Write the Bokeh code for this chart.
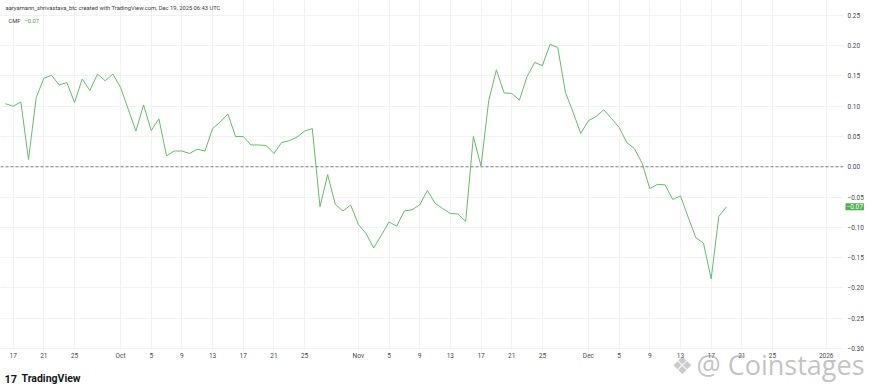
import pandas as pd
from bokeh.plotting import figure
from bokeh.models import Range1d, FixedTicker, Span, Label, CustomJSTickFormatter
from bokeh.embed import file_html
from bokeh.resources import INLINE

# ---- data (daily CMF, 2025-09-16 .. 2025-12-19) ----
start_date = "2025-09-16"
cmf = [
    0.104, 0.100, 0.107, 0.012, 0.114, 0.146, 0.151, 0.135, 0.139, 0.106,
    0.145, 0.126, 0.153, 0.142, 0.153, 0.131, 0.095, 0.059, 0.102, 0.060,
    0.079, 0.018, 0.026, 0.026, 0.022, 0.029, 0.026, 0.063, 0.074, 0.087,
    0.050, 0.050, 0.036, 0.036, 0.035, 0.022, 0.040, 0.043, 0.049, 0.059,
    0.063, -0.066, -0.013, -0.062, -0.073, -0.063, -0.095, -0.110, -0.134, -0.113,
    -0.091, -0.098, -0.073, -0.071, -0.063, -0.039, -0.060, -0.069, -0.077, -0.078,
    -0.090, 0.050, 0.001, 0.109, 0.160, 0.122, 0.121, 0.110, 0.149, 0.172,
    0.167, 0.202, 0.197, 0.123, 0.090, 0.055, 0.076, 0.083, 0.094, 0.080,
    0.065, 0.040, 0.030, 0.006, -0.036, -0.029, -0.030, -0.054, -0.048, -0.083,
    -0.117, -0.126, -0.185, -0.082, -0.066,
]
dates = pd.date_range(start_date, periods=len(cmf), freq="D")

tick_dates = ["2025-09-17", "2025-09-21", "2025-09-25", "2025-10-01", "2025-10-05",
              "2025-10-09", "2025-10-13", "2025-10-17", "2025-10-21", "2025-10-25",
              "2025-11-01", "2025-11-05", "2025-11-09", "2025-11-13", "2025-11-17",
              "2025-11-21", "2025-11-25", "2025-12-01", "2025-12-05", "2025-12-09",
              "2025-12-13", "2025-12-17", "2025-12-21", "2025-12-25", "2026-01-01"]
tick_labels = ["17", "21", "25", "Oct", "5", "9", "13", "17", "21", "25",
               "Nov", "5", "9", "13", "17", "21", "25", "Dec", "5", "9",
               "13", "17", "21", "25", "2026"]
y_ticks = [-0.30, -0.25, -0.20, -0.15, -0.10, -0.05, 0.00, 0.05, 0.10, 0.15, 0.20, 0.25]

header = "aaryamann_shrivastava_btc created with TradingView.com, Dec 19, 2025 06:43 UTC"
indicator = "CMF"
last_label = "\u22120.07"
brand = "TradingView"
watermark = "@ Coinstages"

# ---- derived ----
t0 = pd.Timestamp(start_date)
x = [(d - t0).days for d in dates]
tick_x = [(pd.Timestamp(d) - t0).days for d in tick_dates]

PX_PER_DAY = 7.67
PX_PER_UNIT = 606.0
X0 = -0.652
Y0 = 0.2744
W, H = 869, 388
FRAME_W, FRAME_H = 843, 350

def dx(px):
    return X0 + px / PX_PER_DAY

def dy(py):
    return Y0 - py / PX_PER_UNIT

FONT = "Roboto"
AX_COLOR = "#4a4a4a"

p = figure(width=W, height=H, output_backend="svg", toolbar_location=None,
           x_range=Range1d(X0, dx(FRAME_W)),
           y_range=Range1d(dy(FRAME_H), Y0),
           y_axis_location="right",
           min_border_left=0, min_border_top=0,
           min_border_right=W - FRAME_W, min_border_bottom=H - FRAME_H)
p.outline_line_color = None
p.background_fill_color = "white"
p.border_fill_color = "white"

xa = p.xaxis[0]
xa.ticker = FixedTicker(ticks=tick_x)
xa.major_label_overrides = {t: l for t, l in zip(tick_x, tick_labels)}
xa.axis_line_color = None
xa.major_tick_line_color = None
xa.minor_tick_line_color = None
xa.major_tick_out = 0
xa.major_tick_in = 0
xa.minor_tick_out = 0
xa.major_label_standoff = 1
xa.major_label_text_font = FONT
xa.major_label_text_font_size = "6.5px"
xa.major_label_text_color = AX_COLOR

ya = p.yaxis[0]
ya.ticker = FixedTicker(ticks=y_ticks)
ya.formatter = CustomJSTickFormatter(code="return tick.toFixed(2).replace('-', '\\u2212');")
ya.axis_line_color = None
ya.major_tick_line_color = None
ya.minor_tick_line_color = None
ya.major_tick_out = 0
ya.major_tick_in = 0
ya.minor_tick_out = 0
ya.major_label_standoff = 4
ya.major_label_text_font = FONT
ya.major_label_text_font_size = "6.5px"
ya.major_label_text_color = AX_COLOR

p.xgrid.ticker = FixedTicker(ticks=tick_x)
p.ygrid.ticker = FixedTicker(ticks=y_ticks)
p.xgrid.grid_line_color = "#f0f2f6"
p.ygrid.grid_line_color = "#f0f2f6"

p.add_layout(Span(location=0, dimension="width", line_color="#7d7f88",
                  line_width=1, line_dash="3 2"))

p.line(x, cmf, line_color="#66bc6a", line_width=1)

# legend-like header texts (inside the pane)
p.add_layout(Label(x=dx(5), y=dy(7.5), text=header, text_font=FONT,
                   text_font_size="5.8px", text_color="#3a3a3a", text_baseline="middle"))
p.add_layout(Label(x=dx(8), y=dy(20), text=indicator, text_font=FONT,
                   text_font_size="5.8px", text_color="#3a3a3a", text_baseline="middle"))
p.add_layout(Label(x=dx(24), y=dy(20), text=last_label, text_font=FONT,
                   text_font_size="5.8px", text_color="#43a047", text_baseline="middle"))

# transparent overlay figure (separate root, so no frame alignment) with the same
# scales, covering the whole canvas, for texts outside the pane
ov = figure(width=W, height=H, output_backend="svg", toolbar_location=None,
            x_range=Range1d(X0, dx(W)), y_range=Range1d(dy(H), Y0),
            x_axis_location=None, y_axis_location=None,
            min_border_left=0, min_border_right=0, min_border_top=0, min_border_bottom=0)
ov.grid.visible = False
ov.outline_line_color = None
ov.background_fill_color = None
ov.border_fill_color = None
ov.styles = {"margin-top": f"-{H}px"}

ov.add_layout(Label(x=dx(845), y=cmf[-1], text=last_label, text_font=FONT,
                    text_font_size="6.5px", text_color="white", text_baseline="middle",
                    background_fill_color="#4caf50", padding=1))
ov.add_layout(Label(x=dx(4), y=dy(378), text="17", text_font=FONT, text_font_style="bold",
                    text_font_size="11px", text_color="#131722", text_baseline="middle"))
ov.add_layout(Label(x=dx(21), y=dy(378), text=brand, text_font=FONT,
                    text_font_style="bold", text_font_size="10.5px", text_color="#131722",
                    text_baseline="middle"))
ov.add_layout(Label(x=dx(671), y=dy(365), text="\u2756", text_font="DejaVu Sans",
                    text_font_size="24px", text_color="#a8a8a8", text_alpha=0.6,
                    text_baseline="middle"))
ov.add_layout(Label(x=dx(696), y=dy(364), text=watermark, text_font="Open Sans",
                    text_font_size="27px", text_color="#9a9a9a", text_alpha=0.6,
                    text_baseline="middle"))

open("out.html", "w").write(file_html([p, ov], INLINE))
